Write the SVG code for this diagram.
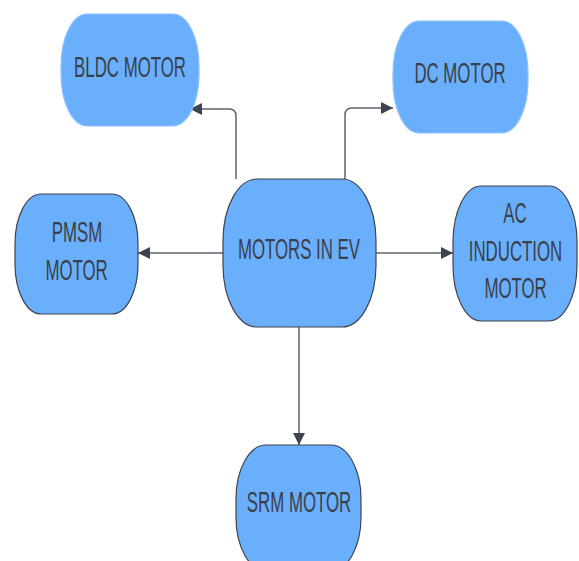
<svg xmlns="http://www.w3.org/2000/svg" width="579" height="561" viewBox="0 0 579 561">
  <style>
    .node { fill: #6aaffc; stroke: #3e4350; stroke-width: 1.2; }
    .soft { stroke: #8fc2fb; }
    .label { font-family: "Liberation Sans", Arial, sans-serif; font-size: 29px; fill: #3a3f49; text-anchor: middle; }
    .edge { fill: none; stroke: #5d626b; stroke-width: 1.5; }
  </style>
  <defs>
    <marker id="arrowBig" viewBox="0 0 12 12" refX="12" refY="6" markerWidth="12" markerHeight="12" markerUnits="userSpaceOnUse" orient="auto">
      <path d="M0,0 L12,6 L0,12 z" fill="#3e4350"/>
    </marker>
  </defs>

  <g id="connectors">
    <path class="edge" d="M236,179 V116 Q236,109 229,109 H190" marker-end="url(#arrowBig)"/>
    <path class="edge" d="M345,179 V115 Q345,108 352,108 H393" marker-end="url(#arrowBig)"/>
    <path class="edge" d="M223,253 H138" marker-end="url(#arrowBig)"/>
    <path class="edge" d="M376,253 H453" marker-end="url(#arrowBig)"/>
    <path class="edge" d="M299,327 V445" marker-end="url(#arrowBig)"/>
  </g>

  <!-- labels use a narrowed Liberation Sans (horizontal scale 0.58) -->
  <g id="bldc">
    <rect class="node soft" x="61" y="14" width="138" height="112" rx="26" ry="52"/>
    <text class="label" transform="translate(130,77) scale(0.58,1)">BLDC MOTOR</text>
  </g>

  <g id="dc">
    <rect class="node soft" x="393" y="21" width="135" height="112" rx="26" ry="52"/>
    <text class="label" transform="translate(460,83) scale(0.58,1)">DC MOTOR</text>
  </g>

  <g id="pmsm">
    <rect class="node" x="15" y="194" width="123" height="120" rx="26" ry="50"/>
    <text class="label" transform="translate(77,242) scale(0.58,1)">PMSM</text>
    <text class="label" transform="translate(76.5,280) scale(0.58,1)">MOTOR</text>
  </g>

  <g id="center">
    <rect class="node" x="223" y="179" width="153" height="148" rx="34" ry="62"/>
    <text class="label" transform="translate(299,259) scale(0.58,1)">MOTORS IN EV</text>
  </g>

  <g id="ac">
    <rect class="node" x="453" y="186" width="124" height="135" rx="28" ry="56"/>
    <text class="label" transform="translate(515,223) scale(0.58,1)">AC</text>
    <text class="label" transform="translate(515.5,261) scale(0.58,1)">INDUCTION</text>
    <text class="label" transform="translate(515.5,298) scale(0.58,1)">MOTOR</text>
  </g>

  <g id="srm">
    <rect class="node" x="236" y="445" width="125" height="126" rx="30" ry="54"/>
    <text class="label" transform="translate(299,512) scale(0.58,1)">SRM MOTOR</text>
  </g>
</svg>
